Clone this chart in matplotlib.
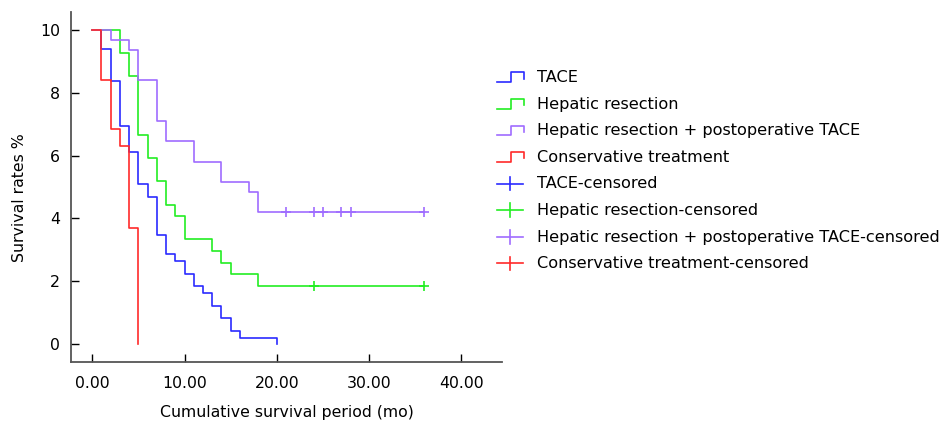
import matplotlib
matplotlib.use("Agg")
import matplotlib.pyplot as plt
from matplotlib.lines import Line2D
from matplotlib.legend_handler import HandlerBase

# ---- data ----
tace_t = [0, 1, 2, 3, 4, 5, 6, 7, 8, 9, 10, 11, 12, 13, 14, 15, 16, 20]
tace_s = [10, 9.39, 8.37, 6.94, 6.12, 5.10, 4.69, 3.47, 2.86, 2.65, 2.24, 1.84, 1.63, 1.22, 0.82, 0.41, 0.20, 0]
tace_cens_t = []
tace_cens_s = []

hr_t = [0, 3, 4, 5, 6, 7, 8, 9, 10, 13, 14, 15, 18, 36]
hr_s = [10, 9.26, 8.52, 6.67, 5.93, 5.19, 4.44, 4.07, 3.33, 2.96, 2.59, 2.22, 1.85, 1.85]
hr_cens_t = [24, 36]
hr_cens_s = [1.85, 1.85]

hrt_t = [0, 2, 4, 5, 7, 8, 11, 14, 17, 18, 36]
hrt_s = [10, 9.68, 9.35, 8.39, 7.10, 6.45, 5.81, 5.16, 4.84, 4.19, 4.19]
hrt_cens_t = [21, 24, 25, 27, 28, 36]
hrt_cens_s = [4.19, 4.19, 4.19, 4.19, 4.19, 4.19]

cons_t = [0, 1, 2, 3, 4, 5]
cons_s = [10, 8.42, 6.84, 6.32, 3.68, 0]
cons_cens_t = []
cons_cens_s = []

labels = ["TACE", "Hepatic resection", "Hepatic resection + postoperative TACE",
          "Conservative treatment"]
x_ticks = [0, 10, 20, 30, 40]
x_ticklabels = ["0.00", "10.00", "20.00", "30.00", "40.00"]
y_ticks = [0, 2, 4, 6, 8, 10]
y_ticklabels = ["0", "2", "4", "6", "8", "10"]

colors = ["#2b2bff", "#22ee22", "#9f6cff", "#ff2a2a"]

plt.rcParams['font.family'] = ['DejaVu Sans']
FS = 11.3
LFS = 11.6

fig = plt.figure(figsize=(9.44, 4.21), dpi=100)
ax = fig.add_axes([71/944, 1-362/421, (502-71)/944, (362-12)/421])

series = [(tace_t, tace_s, tace_cens_t, tace_cens_s),
          (hr_t, hr_s, hr_cens_t, hr_cens_s),
          (hrt_t, hrt_s, hrt_cens_t, hrt_cens_s),
          (cons_t, cons_s, cons_cens_t, cons_cens_s)]

step_handles = []
cens_handles = []
for (t, s, ct, cs), c, lab in zip(series, colors, labels):
    h, = ax.step(t, s, where='post', color=c, lw=1.2, label=lab)
    step_handles.append(h)
    ch, = ax.plot(ct, cs, linestyle='none', marker='+', color=c, markersize=7,
                  markeredgewidth=1.2, label=lab + "-censored")
    cens_handles.append(ch)

ax.set_xlim(-2.3, 44.4)
ax.set_ylim(-0.57, 10.57)
ax.set_xticks(x_ticks)
ax.set_xticklabels(x_ticklabels)
ax.set_yticks(y_ticks)
ax.set_yticklabels(y_ticklabels)
ax.tick_params(direction='in', length=6, width=1.0, labelsize=FS, pad=10, colors='black')
ax.tick_params(axis='y', pad=8)
for sp in ['top', 'right']:
    ax.spines[sp].set_visible(False)
for sp in ['left', 'bottom']:
    ax.spines[sp].set_color('#555555')
    ax.spines[sp].set_linewidth(1.3)
ax.set_xlabel("Cumulative survival period (mo)", fontsize=FS, labelpad=10)
ax.set_ylabel("Survival rates %", fontsize=FS, labelpad=10)
ax.yaxis.set_label_coords(-0.102, 0.47)


class StepHandler(HandlerBase):
    def create_artists(self, legend, orig_handle, xdescent, ydescent, width, height,
                       fontsize, trans):
        x0 = -xdescent
        y0 = -ydescent
        xs = [x0, x0 + width * 0.52, x0 + width * 0.52, x0 + width, x0 + width]
        ys = [y0 + height * 0.0, y0 + height * 0.0, y0 + height * 0.85, y0 + height * 0.85,
              y0 + height * 0.3]
        ln = Line2D(xs, ys, color=orig_handle.get_color(), lw=1.2)
        ln.set_transform(trans)
        return [ln]


class CensHandler(HandlerBase):
    def create_artists(self, legend, orig_handle, xdescent, ydescent, width, height,
                       fontsize, trans):
        x0 = -xdescent
        y0 = -ydescent
        ym = y0 + height * 0.42
        ln = Line2D([x0 + width * 0.0, x0 + width * 0.95], [ym, ym],
                    color=orig_handle.get_color(), lw=1.2)
        ln.set_transform(trans)
        v = Line2D([x0 + width * 0.48, x0 + width * 0.48], [ym - height * 0.6, ym + height * 0.6],
                   color=orig_handle.get_color(), lw=1.2)
        v.set_transform(trans)
        return [ln, v]


hmap = {h: StepHandler() for h in step_handles}
hmap.update({h: CensHandler() for h in cens_handles})
handles = step_handles + cens_handles
fig.legend(handles, [h.get_label() for h in handles], handler_map=hmap,
           loc='upper left', bbox_to_anchor=(497/944, 1-70/421), frameon=False,
           fontsize=LFS, handlelength=1.7, handleheight=0.7, handletextpad=0.8,
           labelspacing=0.72, borderaxespad=0, borderpad=0)

fig.savefig("out.png", dpi=100)
